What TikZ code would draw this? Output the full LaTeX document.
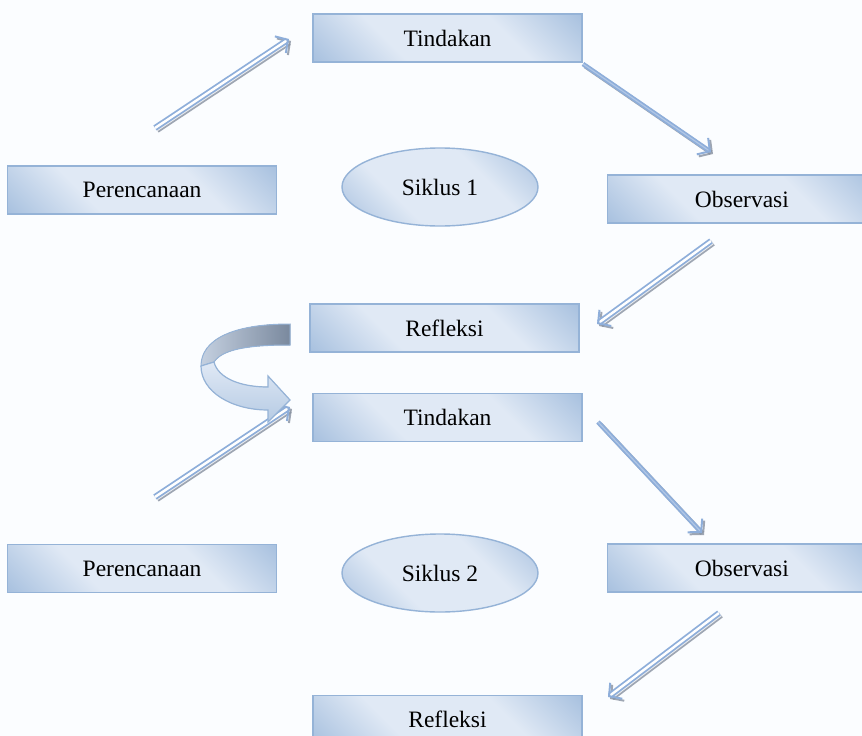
\documentclass[tikz,border=0pt]{standalone}
\usepackage{fontspec}
\setmainfont{Liberation Serif}
\usetikzlibrary{positioning, arrows.meta, shapes.geometric}
\definecolor{boxedge}{RGB}{149,179,215}
\definecolor{boxdark}{RGB}{150,180,216}
\definecolor{boxlight}{RGB}{224,233,245}
\definecolor{arrblue}{RGB}{142,174,218}
\definecolor{arrshade}{RGB}{135,145,160}
\definecolor{bgtint}{RGB}{251,253,255}
\definecolor{backdark}{RGB}{122,137,158}
\definecolor{backlight}{RGB}{196,208,224}
\pgfdeclarehorizontalshading{boxshade}{100bp}{color(0bp)=(boxdark); color(8bp)=(boxdark); color(36bp)=(boxlight); color(64bp)=(boxlight); color(92bp)=(boxdark); color(100bp)=(boxdark)}
\tikzset{
    x=1pt, y=-1pt, % one unit is one pixel, y runs downwards
    box/.style={draw=boxedge, line width=1.4pt, shading=boxshade, shading angle=45, minimum width=269pt, minimum height=48pt, inner sep=0pt, font=\fontsize{23.5}{28}\selectfont}, % the stage boxes
    siklus/.style={ellipse, draw=boxedge, line width=1.4pt, shading=boxshade, shading angle=45, minimum width=196pt, minimum height=78pt, inner sep=0pt, font=\fontsize{23.5}{28}\selectfont}, % the cycle labels
    flow/.style={draw=arrblue, line width=1.8pt, double=white, double distance=2.4pt, -{Straight Barb[length=9pt, width=20pt, line width=2pt]}}, % double arrows
    flowthin/.style={flow, double=arrblue!70, double distance=1.2pt, line width=1.7pt}, % the narrow ones
    flowshadow/.style={draw=arrshade, opacity=0.8, transform canvas={xshift=2pt, yshift=-2pt}}, % grey shadow under an arrow
}
\begin{document}
\begin{tikzpicture}
    \clip (0,0) rectangle (862,736);
    \fill[bgtint] (0,0) rectangle (862,736);
    \node[box] (tind1) at (447.5,38) {Tindakan};
    \node[siklus] (sik1) at (440,187) {Siklus 1};
    \node[box, left=64pt of sik1, yshift=-3pt] (per1) {Perencanaan};
    \node[box, right=68pt of sik1, yshift=-12pt] (obs1) {Observasi};
    \node[box] (refl1) at (444.5,328) {Refleksi};
    \node[box, below=40pt of refl1, xshift=3pt] (tind2) {Tindakan};
    \node[siklus] (sik2) at (440,573) {Siklus 2};
    \node[box, left=64pt of sik2, yshift=4.5pt] (per2) {Perencanaan};
    \node[box, right=68pt of sik2, yshift=5pt] (obs2) {Observasi};
    \node[box, below=82pt of sik2, xshift=7.5pt] (refl2) {Refleksi};
    \coordinate (per1out) at (155,128);
    \coordinate (tind1in) at (289,39);
    \coordinate (tind1out) at (583,64);
    \coordinate (obs1in) at (711,152);
    \coordinate (obs1out) at (711,241);
    \coordinate (refl1in) at (597,324);
    \coordinate (per2out) at (155,497);
    \coordinate (tind2in) at (290,407);
    \coordinate (tind2out) at (598,422);
    \coordinate (obs2in) at (702,533);
    \coordinate (obs2out) at (719,613);
    \coordinate (refl2in) at (608,697);
    \draw[flow, flowshadow] (per1out) -- (tind1in);
    \draw[flow] (per1out) -- (tind1in);
    \draw[flowthin, flowshadow] (tind1out) -- (obs1in);
    \draw[flowthin] (tind1out) -- (obs1in);
    \draw[flow, flowshadow] (obs1out) -- (refl1in);
    \draw[flow] (obs1out) -- (refl1in);
    \draw[flow, flowshadow] (per2out) -- (tind2in);
    \draw[flow] (per2out) -- (tind2in);
    \draw[flowthin, flowshadow] (tind2out) -- (obs2in);
    \draw[flowthin] (tind2out) -- (obs2in);
    \draw[flow, flowshadow] (obs2out) -- (refl2in);
    \draw[flow] (obs2out) -- (refl2in);
    \filldraw[draw=boxedge, line width=1pt, left color=backlight, right color=backdark] (290,324) .. controls (232,324) and (201,340) .. (201,366) -- (214,362) .. controls (222,350) and (245,345) .. (290,345) -- cycle;
    \filldraw[draw=boxedge, line width=1.2pt, top color=boxlight, bottom color=boxdark!70] (201,366) .. controls (201,392) and (232,410) .. (268,410) -- (268,422) -- (290,400) -- (268,376) -- (268,387) .. controls (240,387) and (218,378) .. (214,362) -- cycle;
\end{tikzpicture}
\end{document}
